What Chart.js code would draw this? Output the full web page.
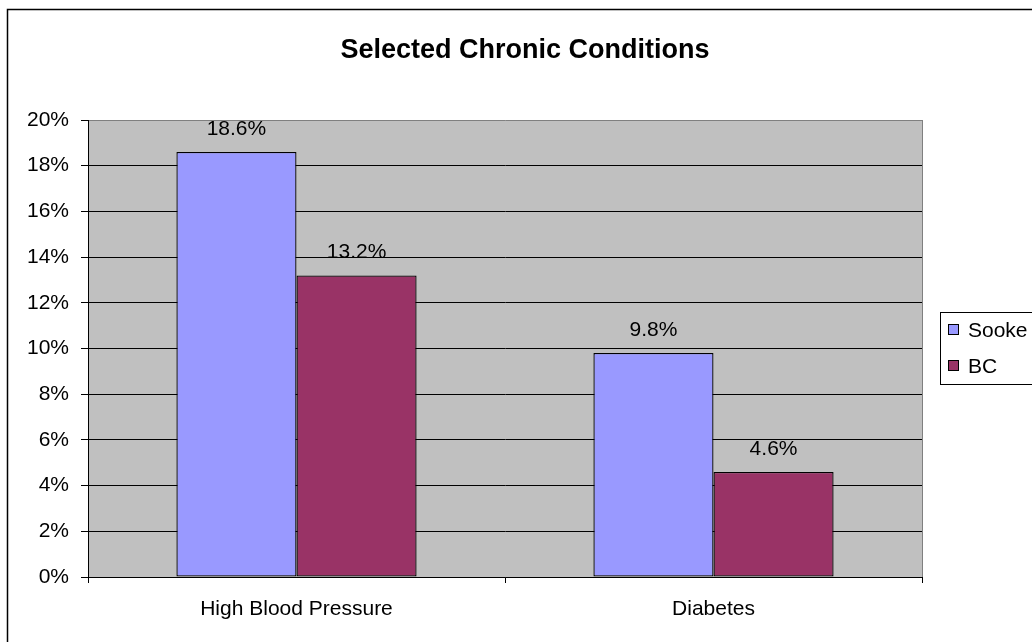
<!DOCTYPE html>
<html>
<head>
<meta charset="utf-8">
<script src="https://cdn.jsdelivr.net/npm/chart.js@4.4.0/dist/chart.umd.min.js"></script>
<style>
  html, body { margin: 0; padding: 0; background: #ffffff; }
  #wrap { width: 1032px; height: 642px; }
</style>
</head>
<body>
<div id="wrap"><canvas id="chart" width="1032" height="642"></canvas></div>
<script>
// Chart content
const chartTitle = 'Selected Chronic Conditions';
const categories = ['High Blood Pressure', 'Diabetes'];
const seriesNames = ['Sooke', 'BC'];
const sookeValues = [18.6, 9.8];
const bcValues = [13.2, 4.6];
const yTicks = [0, 2, 4, 6, 8, 10, 12, 14, 16, 18, 20];

const FONT = '"Liberation Sans", Arial, sans-serif';
const colors = { Sooke: '#9999FF', BC: '#993366' };

// Grey plot background, outer frame, title, value labels and legend box
const decorations = {
  id: 'decorations',
  beforeDraw(chart) {
    const { ctx, chartArea: a } = chart;
    ctx.save();
    ctx.fillStyle = '#ffffff';
    ctx.fillRect(0, 0, chart.width, chart.height);
    ctx.fillStyle = '#C0C0C0';
    ctx.fillRect(a.left, a.top, a.right - a.left, a.bottom - a.top);
    ctx.restore();
  },
  afterDraw(chart) {
    const { ctx, chartArea: a } = chart;
    ctx.save();
    // right edge of plot area
    ctx.strokeStyle = '#808080';
    ctx.lineWidth = 1;
    ctx.beginPath();
    ctx.moveTo(Math.round(a.right) + 0.5, a.top);
    ctx.lineTo(Math.round(a.right) + 0.5, a.bottom);
    ctx.stroke();

    // outer frame
    ctx.strokeStyle = '#000000';
    ctx.lineWidth = 1.5;
    ctx.strokeRect(7.5, 9.5, 2000, 2000);

    // title
    ctx.fillStyle = '#000000';
    ctx.font = 'bold 27px ' + FONT;
    ctx.textAlign = 'center';
    ctx.textBaseline = 'alphabetic';
    ctx.fillText(chartTitle, 525, 58);

    // value labels above bars
    ctx.font = '21px ' + FONT;
    ctx.textBaseline = 'middle';
    chart.data.datasets.forEach((ds, i) => {
      chart.getDatasetMeta(i).data.forEach((bar, j) => {
        ctx.fillText(ds.data[j].toFixed(1) + '%', bar.x, bar.y - 23);
      });
    });

    // legend
    ctx.lineWidth = 1;
    ctx.strokeStyle = '#000000';
    ctx.fillStyle = '#ffffff';
    ctx.fillRect(940.5, 312.5, 200, 72);
    ctx.strokeRect(940.5, 312.5, 200, 72);
    ctx.textAlign = 'left';
    chart.data.datasets.forEach((ds, i) => {
      const cy = 330 + i * 36;
      ctx.fillStyle = ds.backgroundColor;
      ctx.fillRect(948.5, cy - 5.5, 10, 10);
      ctx.strokeRect(948.5, cy - 5.5, 10, 10);
      ctx.fillStyle = '#000000';
      ctx.fillText(ds.label, 968, cy + 1);
    });
    ctx.restore();
  }
};

new Chart(document.getElementById('chart'), {
  type: 'bar',
  data: {
    labels: categories,
    datasets: [
      { label: seriesNames[0], data: sookeValues, backgroundColor: colors.Sooke },
      { label: seriesNames[1], data: bcValues, backgroundColor: colors.BC }
    ]
  },
  options: {
    responsive: false,
    animation: false,
    devicePixelRatio: 1,
    layout: { padding: { left: 0, top: 120, right: 110, bottom: 0 } },
    datasets: {
      bar: {
        borderColor: '#000000',
        borderWidth: 1.3,
        borderSkipped: false,
        categoryPercentage: 0.576,
        barPercentage: 1.0
      }
    },
    plugins: {
      legend: { display: false },
      title: { display: false },
      tooltip: { enabled: false }
    },
    scales: {
      x: {
        grid: {
          offset: true,
          drawOnChartArea: false,
          tickLength: 6,
          tickColor: '#000000'
        },
        border: { color: '#000000', width: 1 },
        ticks: {
          color: '#000000',
          font: { family: FONT, size: 21 },
          padding: 14,
          maxRotation: 0
        },
        afterFit(scale) { scale.height = 65; }
      },
      y: {
        min: 0,
        max: 20,
        afterBuildTicks(scale) { scale.ticks = yTicks.map(v => ({ value: v })); },
        grid: {
          color: ctx => (ctx.tick && ctx.tick.value === 20 ? '#808080' : '#000000'),
          tickColor: '#000000',
          tickLength: 7
        },
        border: { color: '#000000', width: 1 },
        ticks: {
          color: '#000000',
          font: { family: FONT, size: 21 },
          padding: 12,
          callback: v => v + '%'
        },
        afterFit(scale) { scale.width = 88; }
      }
    }
  },
  plugins: [decorations]
});
</script>
</body>
</html>
